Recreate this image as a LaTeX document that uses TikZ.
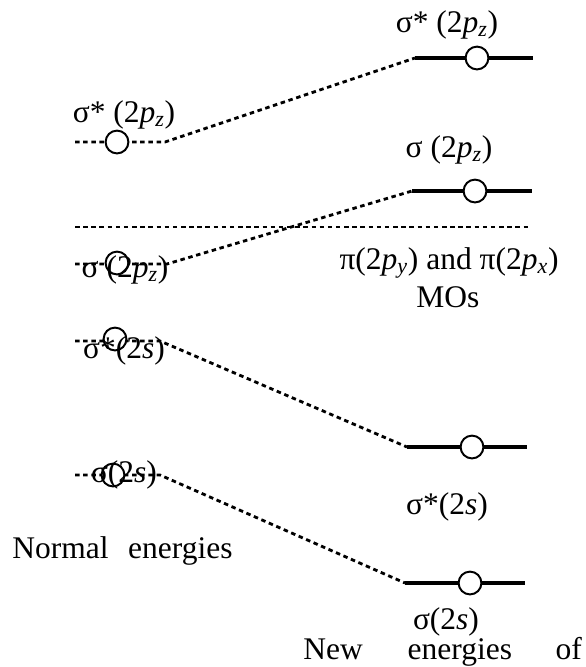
\documentclass[tikz,border=0pt]{standalone}
\usepackage{fontspec}
\setmainfont{Liberation Serif}
\usetikzlibrary{positioning}
\newcommand{\porb}[1]{\textit{p}\textsubscript{\textit{#1}}}

\begin{document}
\begin{tikzpicture}[x=0.025cm,y=-0.025cm,
    font=\fontsize{22.4}{27}\selectfont,
    lvldash/.style={line width=2pt,dash pattern=on 3.2pt off 2.6pt},
    lvlsolid/.style={line width=2.4pt},
    orb/.style={circle,draw,line width=1.4pt,fill=white,minimum size=0.57cm,inner sep=0pt},
    lbl/.style={anchor=base,inner sep=0pt}]
  \useasboundingbox (0,0) rectangle (586,667);
  % pi level
  \coordinate (piL) at (75,227);
  \coordinate (piR) at (530,227);
  \draw[lvldash] (piL) -- (piR);
  % normal energies (left)
  \coordinate (a1) at (75,142);  \coordinate (b1) at (165,142);
  \coordinate (a2) at (75,264);  \coordinate (b2) at (167,264);
  \coordinate (a3) at (75,341);  \coordinate (b3) at (160,341);
  \coordinate (a4) at (75,475);  \coordinate (b4) at (160,475);
  % new energies (right)
  \coordinate (c1) at (415,58);  \coordinate (d1) at (533,58);
  \coordinate (c2) at (412,191); \coordinate (d2) at (532,191);
  \coordinate (c3) at (407,447); \coordinate (d3) at (527,447);
  \coordinate (c4) at (405,583); \coordinate (d4) at (525,583);
  \foreach \i in {1,...,4} {
    \draw[lvldash] (a\i) -- (b\i) -- (c\i);
    \draw[lvlsolid] (c\i) -- (d\i);
  }
  % orbitals
  \node[orb] (n1) at (117,142) {};
  \node[orb] (n2) at (117,263) {};
  \node[orb] (n3) at (115,339) {};
  \node[orb] (n4) at (113,475) {};
  \node[orb] (m1) at (477,58) {};
  \node[orb] (m2) at (475,191) {};
  \node[orb] (m3) at (472,447) {};
  \node[orb] (m4) at (470,583) {};
  % labels
  \node[lbl] (ln1) at (124,122) {σ* (2\porb{z})};
  \node[lbl] (ln2) at (125,277) {σ (2\porb{z})};
  \node[lbl] (ln3) at (124,358) {σ*(2\textit{s})};
  \node[lbl] (ln4) at (124,482) {σ(2\textit{s})};
  \node[lbl] (lm1) at (447,32) {σ* (2\porb{z})};
  \node[lbl] (lm2) at (449,157) {σ (2\porb{z})};
  \node[lbl] (lpi) at (449,269) {π(2\porb{y}) and π(2\porb{x})};
  \node[lbl] (lmo) at (448,307) {MOs};
  \node[lbl] (lm3) at (447,514) {σ*(2\textit{s})};
  \node[lbl] (lm4) at (446,629) {σ(2\textit{s})};
  \node[lbl,anchor=base west] (lnorm) at (12,558) {Normal\hspace{14pt}energies};
  \node[lbl,anchor=base west] (lnew) at (303,659) {New\hspace{32pt}energies\hspace{31pt}of};
\end{tikzpicture}
\end{document}
